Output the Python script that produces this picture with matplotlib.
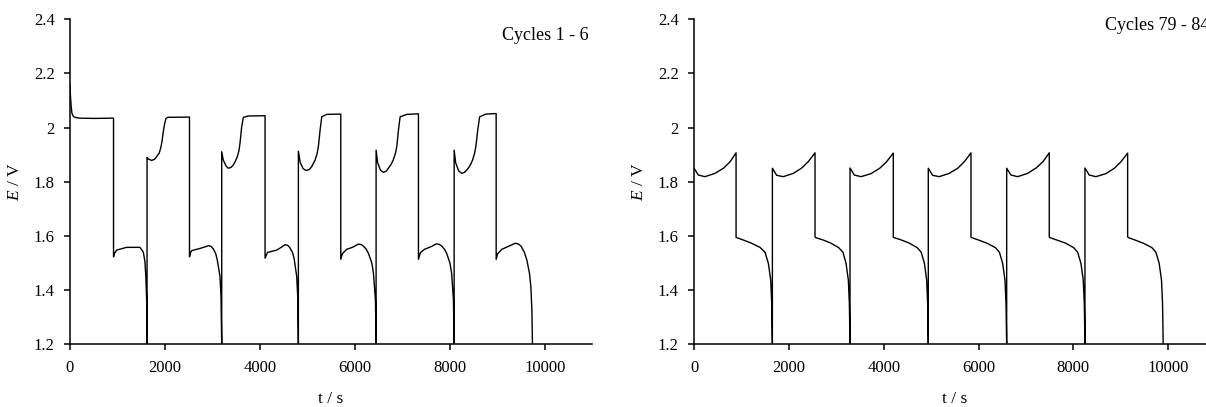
import matplotlib
matplotlib.use("Agg")
import matplotlib.pyplot as plt
from matplotlib.ticker import FuncFormatter

plt.rcParams["font.family"] = ["Liberation Serif", "DejaVu Serif"]
plt.rcParams["mathtext.fontset"] = "custom"
plt.rcParams["mathtext.rm"] = "Liberation Serif"
plt.rcParams["mathtext.it"] = "Liberation Serif:italic"

# cycles 1 - 6 (t in s, E in V)
left_t = [
    0, 10, 25, 42, 70, 105, 200, 500, 918,
    918, 935, 985, 1195, 1475, 1546, 1580, 1598, 1616, 1624,
    1624, 1650, 1720, 1780, 1827, 1880, 1911, 1940, 1966, 1995, 2023, 2060, 2518,
    2518, 2540, 2565, 2740, 2850, 2915, 2970, 3020, 3070, 3104, 3161, 3182, 3197,
    3197, 3230, 3290, 3336, 3390, 3441, 3490, 3526, 3560, 3582, 3618, 3653, 3758, 4110,
    4110, 4160, 4356, 4450, 4531, 4590, 4636, 4690, 4721, 4777, 4798, 4812,
    4812, 4850, 4910, 4973, 5040, 5093, 5163, 5205, 5233, 5269, 5304, 5409, 5705,
    5705, 5740, 5832, 5950, 6076, 6140, 6180, 6240, 6287, 6360, 6393, 6435, 6449,
    6449, 6480, 6540, 6603, 6660, 6708, 6770, 6813, 6860, 6885, 6920, 6955, 7096, 7341,
    7341, 7380, 7470, 7600, 7720, 7780, 7830, 7890, 7935, 8005, 8040, 8078, 8093,
    8093, 8125, 8190, 8255, 8320, 8390, 8440, 8480, 8520, 8550, 8590, 8630, 8760, 8978,
    8978, 9010, 9100, 9250, 9378, 9440, 9500, 9570, 9625, 9680, 9709, 9730, 9743,
]
left_E = [
    2.16, 2.12, 2.08, 2.053, 2.042, 2.038, 2.035, 2.034, 2.035,
    1.523, 1.535, 1.548, 1.558, 1.558, 1.540, 1.505, 1.450, 1.364, 1.20,
    1.890, 1.884, 1.879, 1.883, 1.893, 1.906, 1.924, 1.950, 1.985, 2.015, 2.034, 2.038, 2.039,
    1.523, 1.538, 1.546, 1.554, 1.560, 1.564, 1.562, 1.552, 1.535, 1.511, 1.450, 1.376, 1.20,
    1.911, 1.880, 1.858, 1.850, 1.853, 1.862, 1.878, 1.893, 1.915, 1.942, 2.004, 2.038, 2.043, 2.044,
    1.518, 1.539, 1.548, 1.558, 1.568, 1.565, 1.556, 1.538, 1.518, 1.450, 1.376, 1.20,
    1.913, 1.872, 1.849, 1.842, 1.845, 1.856, 1.880, 1.903, 1.930, 1.991, 2.040, 2.049, 2.050,
    1.514, 1.535, 1.551, 1.558, 1.570, 1.568, 1.563, 1.551, 1.536, 1.500, 1.462, 1.364, 1.20,
    1.917, 1.872, 1.843, 1.835, 1.839, 1.850, 1.866, 1.882, 1.908, 1.930, 1.991, 2.040, 2.049, 2.051,
    1.514, 1.538, 1.551, 1.560, 1.571, 1.569, 1.563, 1.551, 1.536, 1.500, 1.462, 1.364, 1.20,
    1.917, 1.870, 1.840, 1.831, 1.836, 1.850, 1.864, 1.880, 1.903, 1.930, 1.991, 2.040, 2.050, 2.052,
    1.514, 1.535, 1.551, 1.563, 1.573, 1.571, 1.563, 1.541, 1.511, 1.462, 1.413, 1.330, 1.20,
]

# cycles 79 - 84, right panel
right_t = [
    0, 90, 230, 440, 620, 760, 886,
    886, 900, 1040, 1215, 1390, 1497, 1567, 1617, 1638, 1652,
    1652, 1742, 1882, 2092, 2272, 2412, 2551,
    2551, 2565, 2726, 2880, 3050, 3140, 3205, 3254, 3275, 3289,
    3289, 3380, 3520, 3730, 3915, 4060, 4202,
    4202, 4215, 4360, 4535, 4705, 4790, 4857, 4905, 4926, 4940,
    4940, 5030, 5170, 5380, 5560, 5705, 5840,
    5840, 5855, 6000, 6180, 6355, 6440, 6508, 6557, 6579, 6593,
    6593, 6683, 6823, 7033, 7213, 7357, 7491,
    7491, 7505, 7650, 7830, 8005, 8090, 8159, 8208, 8230, 8244,
    8244, 8334, 8474, 8684, 8864, 9008, 9144,
    9144, 9158, 9300, 9480, 9655, 9740, 9809, 9858, 9880, 9894,
]
right_E = [
    1.850, 1.825, 1.819, 1.831, 1.850, 1.874, 1.907,
    1.595, 1.594, 1.585, 1.573, 1.558, 1.540, 1.499, 1.437, 1.351, 1.20,
    1.850, 1.824, 1.819, 1.831, 1.851, 1.875, 1.907,
    1.597, 1.594, 1.585, 1.574, 1.557, 1.540, 1.499, 1.437, 1.351, 1.20,
    1.851, 1.825, 1.819, 1.830, 1.850, 1.874, 1.906,
    1.595, 1.594, 1.586, 1.574, 1.557, 1.540, 1.500, 1.438, 1.352, 1.20,
    1.850, 1.824, 1.819, 1.831, 1.850, 1.875, 1.907,
    1.596, 1.594, 1.585, 1.573, 1.557, 1.540, 1.499, 1.437, 1.351, 1.20,
    1.850, 1.825, 1.819, 1.831, 1.851, 1.874, 1.907,
    1.596, 1.594, 1.585, 1.574, 1.557, 1.540, 1.499, 1.437, 1.351, 1.20,
    1.851, 1.825, 1.819, 1.830, 1.850, 1.875, 1.906,
    1.597, 1.594, 1.585, 1.573, 1.557, 1.540, 1.499, 1.437, 1.351, 1.20,
]

panel_titles = ["Cycles 1 - 6", "Cycles 79 - 84"]
x_ticks = [0, 2000, 4000, 6000, 8000, 10000]
y_ticks = [1.2, 1.4, 1.6, 1.8, 2.0, 2.2, 2.4]


def style_axis(ax):
    ax.set_xlim(0, 11000)
    ax.set_ylim(1.2, 2.4)
    ax.set_xticks(x_ticks)
    ax.set_yticks(y_ticks)
    ax.yaxis.set_major_formatter(FuncFormatter(lambda v, p: f"{v:g}"))
    ax.spines["top"].set_visible(False)
    ax.spines["right"].set_visible(False)
    for s in ("left", "bottom"):
        ax.spines[s].set_linewidth(1.1)
    ax.tick_params(direction="out", length=4, width=1.1, labelsize=12, pad=7)
    ax.set_xlabel("t / s", fontsize=12.5, labelpad=11)
    ax.set_ylabel(r"$E$ / V", fontsize=12.5, labelpad=8)


fig = plt.figure(figsize=(12.06, 4.07), dpi=100)
ax1 = fig.add_axes([0.058, 0.154, 0.433, 0.7986])
ax2 = fig.add_axes([0.5755, 0.154, 0.4325, 0.7986])

ax1.plot(left_t, left_E, color="black", lw=1.0)
ax2.plot(right_t, right_E, color="black", lw=1.0)
for ax in (ax1, ax2):
    style_axis(ax)

# the right-hand label runs off the page in the original too
ax1.text(10917, 2.324, panel_titles[0], ha="right", va="baseline", fontsize=13)
ax2.text(8665, 2.36, panel_titles[1], ha="left", va="baseline", fontsize=13)

fig.savefig("out.png", dpi=100)
